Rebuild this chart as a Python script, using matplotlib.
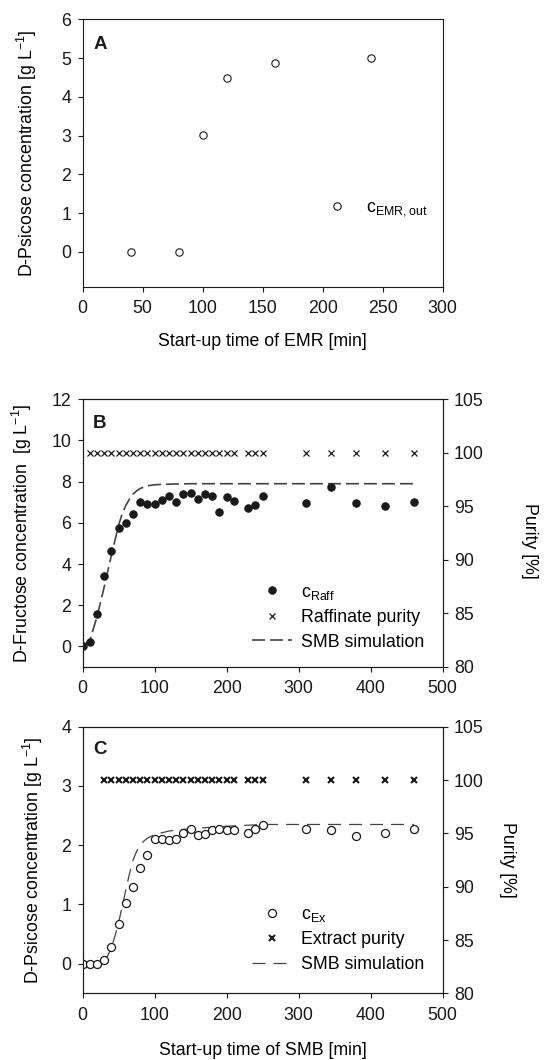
import matplotlib
matplotlib.use('Agg')
import matplotlib.pyplot as plt

plt.rcParams['font.family'] = ['Liberation Sans', 'DejaVu Sans']
plt.rcParams['mathtext.fontset'] = 'custom'
plt.rcParams['mathtext.rm'] = 'Liberation Sans'
plt.rcParams['mathtext.it'] = 'Liberation Sans:italic'
plt.rcParams['mathtext.bf'] = 'Liberation Sans:bold'
plt.rcParams['font.size'] = 12.8
plt.rcParams['axes.linewidth'] = 0.8

# ---- panel A: EMR start-up
emr_t = [40, 80, 100, 120, 160, 240]
emr_c = [0.0, 0.0, 3.02, 4.48, 4.86, 5.0]

# ---- panel B: raffinate (D-fructose)
raff_t = [0, 10, 20, 30, 40, 50, 60, 70, 80, 90, 100, 110, 120, 130, 140, 150,
          160, 170, 180, 190, 200, 210, 230, 240, 250, 310, 345, 380, 420, 460]
raff_c = [0.0, 0.23, 1.59, 3.44, 4.62, 5.74, 6.0, 6.42, 7.0, 6.91, 6.91, 7.12,
          7.28, 7.0, 7.39, 7.46, 7.15, 7.39, 7.3, 6.54, 7.25, 7.04, 6.73, 6.88,
          7.3, 6.97, 7.72, 6.94, 6.84, 7.0]
raff_pur_t = [10, 20, 30, 40, 50, 60, 70, 80, 90, 100, 110, 120, 130, 140, 150,
              160, 170, 180, 190, 200, 210, 230, 240, 250, 310, 345, 380, 420, 460]
raff_pur = [100, 100, 100, 100, 100, 100, 100, 100, 100, 100, 100, 100, 100, 100,
            100, 100, 100, 100, 100, 100, 100, 100, 100, 100, 100, 100, 100, 100, 100]
sim_raff_t = [0, 10, 20, 30, 40, 50, 55, 60, 65, 70, 75, 80, 90, 100, 120, 150,
              200, 300, 460]
sim_raff_c = [0.0, 0.3, 1.45, 2.9, 4.45, 5.9, 6.45, 6.85, 7.15, 7.4, 7.55, 7.67,
              7.8, 7.85, 7.88, 7.9, 7.9, 7.9, 7.9]

# ---- panel C: extract (D-psicose)
ex_t = [0, 10, 20, 30, 40, 50, 60, 70, 80, 90, 100, 110, 120, 130, 140, 150,
        160, 170, 180, 190, 200, 210, 230, 240, 250, 310, 345, 380, 420, 460]
ex_c = [0.0, 0.0, 0.0, 0.056, 0.29, 0.67, 1.02, 1.29, 1.61, 1.83, 2.10, 2.10,
        2.09, 2.10, 2.20, 2.27, 2.18, 2.19, 2.25, 2.28, 2.25, 2.25, 2.21, 2.27,
        2.34, 2.27, 2.25, 2.16, 2.20, 2.27]
ex_pur_t = [30, 40, 50, 60, 70, 80, 90, 100, 110, 120, 130, 140, 150, 160, 170,
            180, 190, 200, 210, 230, 240, 250, 310, 345, 380, 420, 460]
ex_pur = [100, 100, 100, 100, 100, 100, 100, 100, 100, 100, 100, 100, 100, 100,
          100, 100, 100, 100, 100, 100, 100, 100, 100, 100, 100, 100, 100]
sim_ex_t = [0, 10, 20, 30, 35, 40, 45, 50, 55, 60, 65, 70, 75, 80, 85, 90, 100,
            110, 120, 150, 200, 250, 300, 460]
sim_ex_c = [0.0, 0.0, 0.01, 0.05, 0.14, 0.28, 0.47, 0.7, 0.97, 1.25, 1.52, 1.75,
            1.9, 2.0, 2.07, 2.12, 2.18, 2.21, 2.24, 2.28, 2.32, 2.35, 2.35, 2.35]

ink = '#1a1a1a'


def style(ax):
    ax.tick_params(direction='out', length=3.6, width=0.8, pad=4.5, colors=ink,
                   labelsize=12.8)
    ax.tick_params(axis='x', pad=6)
    for s in ax.spines.values():
        s.set_color(ink)


fig = plt.figure(figsize=(5.49, 10.6), dpi=100)
axA = fig.add_axes([0.1506, 0.7295, 0.6557, 0.2523])
axB = fig.add_axes([0.1506, 0.3708, 0.6557, 0.2525])
axC = fig.add_axes([0.1506, 0.0629, 0.6557, 0.2515])

# A
hA, = axA.plot(emr_t, emr_c, 'o', ms=5.3, mfc='white', mec=ink, mew=0.8)
axA.set_xlim(0, 300)
axA.set_ylim(-0.9, 6)
axA.set_xticks([0, 50, 100, 150, 200, 250, 300])
axA.set_yticks([0, 1, 2, 3, 4, 5, 6])
style(axA)
axA.set_ylabel('D-Psicose concentration [g L$^{-1}$]', va='center')
axA.yaxis.set_label_coords(-0.155, 0.5)
axA.set_xlabel('Start-up time of EMR [min]', va='center')
axA.xaxis.set_label_coords(0.5, -0.203)
axA.text(0.029, 0.904, 'A', transform=axA.transAxes, fontsize=13.5,
         fontweight='bold', ha='left', va='center', color=ink)
axA.legend([hA], ['c$_{\\mathregular{EMR,out}}$'], loc='lower left',
           bbox_to_anchor=(0.649, 0.256), frameon=False, handlelength=2.3,
           handletextpad=0.5, borderpad=0, borderaxespad=0)

# B
h1, = axB.plot(raff_t, raff_c, 'o', ms=5.3, mfc=ink, mec=ink, mew=0.8, zorder=3)
h3, = axB.plot(sim_raff_t, sim_raff_c, '--', color='#444444', lw=1.2,
               dashes=(7.8, 3))
axB.set_xlim(0, 500)
axB.set_ylim(-1, 12)
axB.set_xticks([0, 100, 200, 300, 400, 500])
axB.set_yticks([0, 2, 4, 6, 8, 10, 12])
style(axB)
axB.set_ylabel('D-Fructose concentration  [g L$^{-1}$]', va='center')
axB.yaxis.set_label_coords(-0.169, 0.5)
axB2 = axB.twinx()
h2, = axB2.plot(raff_pur_t, raff_pur, 'x', ms=4.0, mec=ink, mew=0.9)
axB2.set_ylim(80, 105)
axB2.set_yticks([80, 85, 90, 95, 100, 105])
style(axB2)
axB2.set_ylabel('Purity [%]', rotation=270, va='center', ha='center')
axB2.yaxis.set_label_coords(1.24, 0.47)
axB.text(0.029, 0.911, 'B', transform=axB.transAxes, fontsize=13.5,
         fontweight='bold', ha='left', va='center', color=ink)
axB2.legend([h1, h2, h3], ['c$_{\\mathregular{Raff}}$', 'Raffinate purity',
                           'SMB simulation'],
            loc='lower left', bbox_to_anchor=(0.469, 0.061), frameon=False,
            handlelength=2.3, handletextpad=0.5, borderpad=0, borderaxespad=0,
            labelspacing=0.42)

# C
g1, = axC.plot(ex_t, ex_c, 'o', ms=5.8, mfc='white', mec=ink, mew=0.9, zorder=3)
g3, = axC.plot(sim_ex_t, sim_ex_c, '--', color='#444444', lw=0.9,
               dashes=(10.4, 6.4))
axC.set_xlim(0, 500)
axC.set_ylim(-0.5, 4)
axC.set_xticks([0, 100, 200, 300, 400, 500])
axC.set_yticks([0, 1, 2, 3, 4])
style(axC)
axC.set_ylabel('D-Psicose concentration [g L$^{-1}$]', va='center')
axC.yaxis.set_label_coords(-0.138, 0.5)
axC.set_xlabel('Start-up time of SMB [min]', va='center')
axC.xaxis.set_label_coords(0.5, -0.213)
axC2 = axC.twinx()
g2, = axC2.plot(ex_pur_t, ex_pur, 'x', ms=4.0, mec=ink, mew=1.5)
axC2.set_ylim(80, 105)
axC2.set_yticks([80, 85, 90, 95, 100, 105])
style(axC2)
axC2.set_ylabel('Purity [%]', rotation=270, va='center', ha='center')
axC2.yaxis.set_label_coords(1.181, 0.5)
axC.text(0.029, 0.913, 'C', transform=axC.transAxes, fontsize=13.5,
         fontweight='bold', ha='left', va='center', color=ink)
axC2.legend([g1, g2, g3], ['c$_{\\mathregular{Ex}}$', 'Extract purity',
                           'SMB simulation'],
            loc='lower left', bbox_to_anchor=(0.469, 0.077), frameon=False,
            handlelength=2.3, handletextpad=0.5, borderpad=0, borderaxespad=0,
            labelspacing=0.42)

fig.savefig('out.png', dpi=100)
